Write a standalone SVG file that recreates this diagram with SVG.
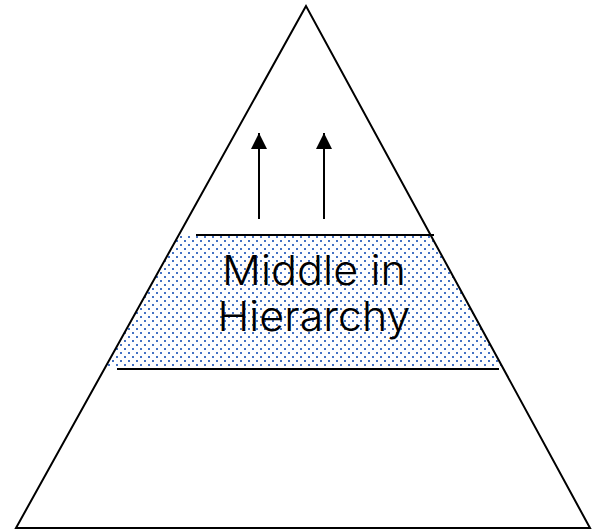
<svg xmlns="http://www.w3.org/2000/svg" width="592" height="531" viewBox="0 0 592 531">
<style>
.ln{stroke:#000;stroke-width:2;fill:none}
.lbl{font-family:Inter,"DejaVu Sans","Liberation Sans",sans-serif;font-weight:300;font-size:41px;fill:#000;text-anchor:middle}
</style>
<defs>
<pattern id="dots" x="0" y="0" width="8" height="8" patternUnits="userSpaceOnUse">
<rect x="0" y="0" width="2" height="2" fill="#4472C4"/>
<rect x="4" y="4" width="2" height="2" fill="#4472C4"/>
</pattern>
<marker id="ah" viewBox="0 0 16 16" markerWidth="16" markerHeight="16" refX="16" refY="8" orient="auto" markerUnits="userSpaceOnUse">
<path d="M0,0 L16,8 L0,16 Z" fill="#000"/>
</marker>
<clipPath id="tri"><polygon points="306,6 16,528 590,528"/></clipPath>
</defs>
<rect width="592" height="531" fill="#fff"/>
<g id="middle-band">
<rect x="0" y="234" width="592" height="132" fill="url(#dots)" clip-path="url(#tri)"/>
</g>
<g id="pyramid">
<polygon class="ln" points="306,6 16,528 590,528"/>
<line class="ln" x1="196" y1="235" x2="434" y2="235"/>
<line class="ln" x1="117" y1="369" x2="499" y2="369"/>
</g>
<g id="label">
<text class="lbl" x="314" y="285" textLength="184" lengthAdjust="spacingAndGlyphs">Middle in</text>
<text class="lbl" x="314" y="331" textLength="193" lengthAdjust="spacingAndGlyphs">Hierarchy</text>
</g>
<g id="connectors">
<line x1="259" y1="219" x2="259" y2="133" stroke="#000" stroke-width="2" marker-end="url(#ah)"/>
<line x1="324" y1="219" x2="324" y2="133" stroke="#000" stroke-width="2" marker-end="url(#ah)"/>
</g>
</svg>
